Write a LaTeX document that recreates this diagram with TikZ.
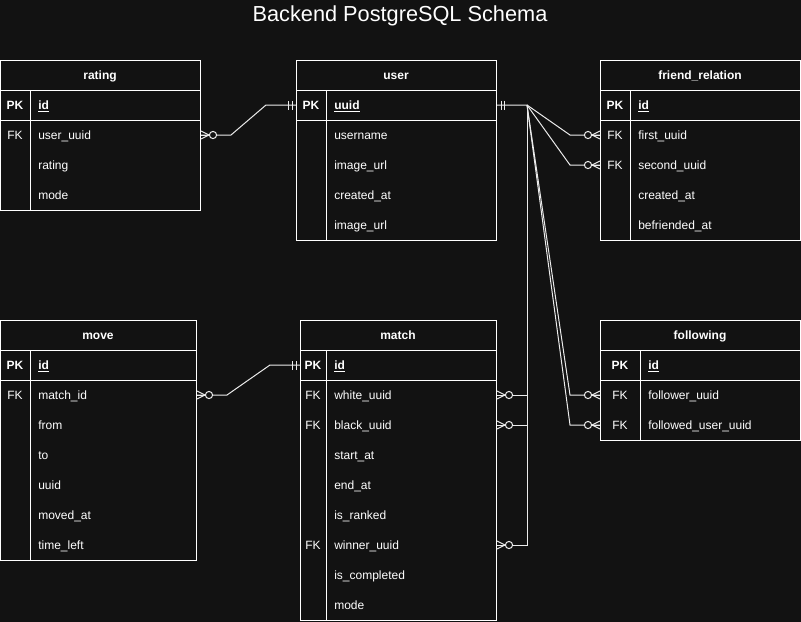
\documentclass[tikz,border=0pt]{standalone}
\usepackage{fontspec}
\setmainfont{Liberation Sans}
\usetikzlibrary{calc}
\definecolor{bgc}{HTML}{121212}
\tikzset{
  tbl/.style={draw=white, line width=0.75pt, fill=bgc, inner sep=0pt, anchor=north west},
  tline/.style={draw=white, line width=0.75pt},
  txt/.style={text=white, inner sep=0pt, text height=6.7pt, text depth=0.3pt},
  hdr/.style={txt, font=\bfseries\fontsize{9}{11}\selectfont},
  fld/.style={txt, font=\fontsize{9}{11}\selectfont, anchor=west},
  keyl/.style={txt, font=\fontsize{9}{11}\selectfont},
  pkl/.style={txt, font=\bfseries\fontsize{9}{11}\selectfont},
  conn/.style={draw=white!92!black, line width=0.75pt},
  zmany/.pic={
    \draw[conn] (0,-4) -- (8,0) -- (0,4);
    \draw[conn] (0,0) -- (8,0);
    \draw[conn, fill=bgc] (12,0) circle[radius=2.7pt];
  },
  mone/.pic={
    \draw[conn] (4,-4.5) -- (4,4.5);
    \draw[conn] (7.5,-4.5) -- (7.5,4.5);
  },
}
\begin{document}
\begin{tikzpicture}[x=0.75pt, y=-0.75pt]
\fill[bgc] (0,0) rectangle (801,622);
\useasboundingbox (0,0) rectangle (801,622);

% title
\node[font=\fontsize{16.3}{19}\selectfont, text=white, anchor=base, inner sep=0pt] (title) at (400,21.5) {Backend PostgreSQL Schema};

% ---------- rating ----------
\node[tbl, minimum width=150pt, minimum height=112.5pt] (rating) at (0,60) {};
\draw[tline] (0,90) -- (200,90) (0,120) -- (200,120) (30,90) -- (30,210);
\node[hdr] (rating-t) at (100,75) {rating};
\node[pkl] (rating-pk) at (15,105) {PK};
\node[fld, font=\bfseries\fontsize{9}{11}\selectfont] (rating-id) at (38,105) {\underline{id}};
\node[keyl] (rating-fk) at (15,135) {FK};
\node[fld] (rating-user) at (38,135) {user\_uuid};
\node[fld] (rating-rating) at (38,165) {rating};
\node[fld] (rating-mode) at (38,195) {mode};

% ---------- user ----------
\node[tbl, minimum width=150pt, minimum height=135pt] (user) at (296,60) {};
\draw[tline] (296,90) -- (496,90) (296,120) -- (496,120) (326,90) -- (326,240);
\node[hdr] (user-t) at (396,75) {user};
\node[pkl] (user-pk) at (311,105) {PK};
\node[fld, font=\bfseries\fontsize{9}{11}\selectfont] (user-uuid) at (334,105) {\underline{uuid}};
\node[fld] (user-name) at (334,135) {username};
\node[fld] (user-img) at (334,165) {image\_url};
\node[fld] (user-created) at (334,195) {created\_at};
\node[fld] (user-img2) at (334,225) {image\_url};

% ---------- friend_relation ----------
\node[tbl, minimum width=150pt, minimum height=135pt] (friend) at (600,60) {};
\draw[tline] (600,90) -- (800,90) (600,120) -- (800,120) (630,90) -- (630,240);
\node[hdr] (friend-t) at (700,75) {friend\_relation};
\node[pkl] (friend-pk) at (615,105) {PK};
\node[fld, font=\bfseries\fontsize{9}{11}\selectfont] (friend-id) at (638,105) {\underline{id}};
\node[keyl] (friend-fk1) at (615,135) {FK};
\node[fld] (friend-first) at (638,135) {first\_uuid};
\node[keyl] (friend-fk2) at (615,165) {FK};
\node[fld] (friend-second) at (638,165) {second\_uuid};
\node[fld] (friend-created) at (638,195) {created\_at};
\node[fld] (friend-bef) at (638,225) {befriended\_at};

% ---------- move ----------
\node[tbl, minimum width=147pt, minimum height=180pt] (move) at (0,320) {};
\draw[tline] (0,350) -- (196,350) (0,380) -- (196,380) (30,350) -- (30,560);
\node[hdr] (move-t) at (98,335) {move};
\node[pkl] (move-pk) at (15,365) {PK};
\node[fld, font=\bfseries\fontsize{9}{11}\selectfont] (move-id) at (38,365) {\underline{id}};
\node[keyl] (move-fk) at (15,395) {FK};
\node[fld] (move-match) at (38,395) {match\_id};
\node[fld] (move-from) at (38,425) {from};
\node[fld] (move-to) at (38,455) {to};
\node[fld] (move-uuid) at (38,485) {uuid};
\node[fld] (move-moved) at (38,515) {moved\_at};
\node[fld] (move-time) at (38,545) {time\_left};

% ---------- match ----------
\node[tbl, minimum width=147pt, minimum height=225pt] (match) at (300,320) {};
\draw[tline] (300,350) -- (496,350) (300,380) -- (496,380) (326,350) -- (326,620);
\node[hdr] (match-t) at (398,335) {match};
\node[pkl] (match-pk) at (313,365) {PK};
\node[fld, font=\bfseries\fontsize{9}{11}\selectfont] (match-id) at (334,365) {\underline{id}};
\node[keyl] (match-fk1) at (313,395) {FK};
\node[fld] (match-white) at (334,395) {white\_uuid};
\node[keyl] (match-fk2) at (313,425) {FK};
\node[fld] (match-black) at (334,425) {black\_uuid};
\node[fld] (match-start) at (334,455) {start\_at};
\node[fld] (match-end) at (334,485) {end\_at};
\node[fld] (match-ranked) at (334,515) {is\_ranked};
\node[keyl] (match-fk3) at (313,545) {FK};
\node[fld] (match-winner) at (334,545) {winner\_uuid};
\node[fld] (match-completed) at (334,575) {is\_completed};
\node[fld] (match-mode) at (334,605) {mode};

% ---------- following ----------
\node[tbl, minimum width=150pt, minimum height=90pt] (following) at (600,320) {};
\draw[tline] (600,350) -- (800,350) (600,380) -- (800,380) (640,350) -- (640,440);
\node[hdr] (following-t) at (700,335) {following};
\node[pkl] (following-pk) at (620,365) {PK};
\node[fld, font=\bfseries\fontsize{9}{11}\selectfont] (following-id) at (648,365) {\underline{id}};
\node[keyl] (following-fk1) at (620,395) {FK};
\node[fld] (following-follower) at (648,395) {follower\_uuid};
\node[keyl] (following-fk2) at (620,425) {FK};
\node[fld] (following-followed) at (648,425) {followed\_user\_uuid};

% ---------- connectors ----------
\coordinate (J) at ($(user.east |- user-uuid)+(30,0)$);
% rating -> user
\draw[conn] (rating.east |- rating-user) -- ++(30,0) -- ($(user.west |- user-uuid)+(-30,0)$) -- (user.west |- user-uuid);
% move -> match
\draw[conn] (move.east |- move-match) -- ++(30,0) -- ($(match.west |- match-id)+(-30,0)$) -- (match.west |- match-id);
% user -> friend_relation
\draw[conn] (user.east |- user-uuid) -- (J) -- ($(friend.west |- friend-first)+(-30,0)$) -- (friend.west |- friend-first);
\draw[conn] (J) -- ($(friend.west |- friend-second)+(-30,0)$) -- (friend.west |- friend-second);
% user -> following
\draw[conn] (J) -- ($(following.west |- following-follower)+(-30,0)$) -- (following.west |- following-follower);
\draw[conn] (J) -- ($(following.west |- following-followed)+(-30,0)$) -- (following.west |- following-followed);
% user -> match
\draw[conn] (J) |- (match.east |- match-white);
\draw[conn] (J) |- (match.east |- match-black);
\draw[conn] (J) |- (match.east |- match-winner);

% ---------- end markers ----------
\pic at (rating.east |- rating-user) {zmany};
\pic[rotate=180] at (user.west |- user-uuid) {mone};
\pic at (user.east |- user-uuid) {mone};
\pic at (move.east |- move-match) {zmany};
\pic[rotate=180] at (match.west |- match-id) {mone};
\pic[rotate=180] at (friend.west |- friend-first) {zmany};
\pic[rotate=180] at (friend.west |- friend-second) {zmany};
\pic[rotate=180] at (following.west |- following-follower) {zmany};
\pic[rotate=180] at (following.west |- following-followed) {zmany};
\pic at (match.east |- match-white) {zmany};
\pic at (match.east |- match-black) {zmany};
\pic at (match.east |- match-winner) {zmany};
\end{tikzpicture}
\end{document}
